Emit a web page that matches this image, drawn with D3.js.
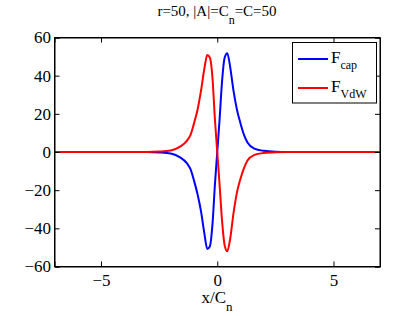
<!DOCTYPE html>
<html>
<head>
<meta charset="utf-8">
<script src="https://cdn.jsdelivr.net/npm/d3@7"></script>
<style>
  body { margin: 0; background: #fff; }
  svg text { font-family: "Liberation Serif", "DejaVu Serif", serif; }
</style>
</head>
<body>
<div id="chart"></div>
<script>
// sample positions (x/Cn)
const xs = [-7, -5, -3, -2.5, -2, -1.6, -1.3, -1.15, -1, -0.85, -0.7, -0.55, -0.43, -0.32, -0.2, -0.1, 0,
            0.1, 0.2, 0.32, 0.43, 0.55, 0.7, 0.85, 1, 1.15, 1.3, 1.6, 2, 2.5, 3, 5, 7];
const fCap = [0, 0, 0, -0.2, -0.8, -2.8, -6, -9, -15, -22, -31, -43, -50.8, -49.5, -37, -17, 0,
              17, 36, 49.5, 51.8, 45, 32, 22, 15, 9, 5, 1.8, 0.6, 0.1, 0, 0, 0];
const fVdw = [0, 0, 0, 0.2, 0.8, 2.8, 6, 9, 15, 22, 32, 44, 50.8, 49.5, 38, 17, 0,
              -17, -35, -49, -52, -46, -32, -21, -14, -8.5, -4.5, -1.5, -0.5, -0.1, 0, 0, 0];
const xTicks = [-5, 0, 5];
const yTicks = [-60, -40, -20, 0, 20, 40, 60];

const width = 420, height = 316;
const mLeft = 54.5, mRight = 380, mTop = 37.5, mBottom = 266.5;
const serif = "'Liberation Serif', 'DejaVu Serif', serif";

const svg = d3.select("#chart").append("svg")
  .attr("width", width).attr("height", height);

const x = d3.scaleLinear().domain([-7, 7]).range([mLeft, mRight]);
const y = d3.scaleLinear().domain([-60, 60]).range([mBottom, mTop]);

// curves
const line = vals => d3.line().curve(d3.curveMonotoneX)
  .x((d, i) => x(xs[i])).y(d => y(d))(vals);
svg.append("path").attr("d", line(fCap)).attr("fill", "none")
  .attr("stroke", "#0000ff").attr("stroke-width", 2);
svg.append("path").attr("d", line(fVdw)).attr("fill", "none")
  .attr("stroke", "#ff0000").attr("stroke-width", 2);

// axes (matlab-style: inward ticks on all four sides)
const tl = 5;
const minus = d => d < 0 ? "\u2212" + Math.abs(d) : d;
svg.append("g").attr("transform", `translate(0,${mBottom})`)
  .call(d3.axisBottom(x).tickValues(xTicks).tickSize(-tl).tickPadding(7).tickFormat(minus));
svg.append("g").attr("transform", `translate(0,${mTop})`)
  .call(d3.axisTop(x).tickValues(xTicks).tickSize(-tl).tickFormat(""));
svg.append("g").attr("transform", `translate(${mLeft},0)`)
  .call(d3.axisLeft(y).tickValues(yTicks).tickSize(-tl).tickPadding(3.5).tickFormat(minus));
svg.append("g").attr("transform", `translate(${mRight},0)`)
  .call(d3.axisRight(y).tickValues(yTicks).tickSize(-tl).tickFormat(""));

svg.selectAll(".domain").attr("stroke", "#000");
svg.selectAll(".tick line").attr("stroke", "#000");
svg.selectAll(".tick text").attr("fill", "#000")
  .style("font-family", serif).style("font-size", "17px");

svg.append("rect").attr("x", mLeft).attr("y", mTop)
  .attr("width", mRight - mLeft).attr("height", mBottom - mTop)
  .attr("fill", "none").attr("stroke", "#000");

// title
const title = svg.append("text").attr("x", 217).attr("y", 16)
  .attr("text-anchor", "middle").attr("font-size", 15);
title.append("tspan").text("r=50, |A|=C");
title.append("tspan").attr("dy", 8).attr("font-size", 12).text("n");
title.append("tspan").attr("dy", -8).text("=C=50");

// x label
const xl = svg.append("text").attr("x", 217).attr("y", 303)
  .attr("text-anchor", "middle").attr("font-size", 17);
xl.append("tspan").text("x/C");
xl.append("tspan").attr("dy", 8).attr("font-size", 13).text("n");

// legend
const leg = svg.append("g");
leg.append("rect").attr("x", 292.5).attr("y", 42.5).attr("width", 84).attr("height", 60.5)
  .attr("fill", "#fff").attr("stroke", "#000");
const entries = [["cap", "#0000ff", 59], ["VdW", "#ff0000", 88]];
entries.forEach(([sub, col, ly]) => {
  leg.append("line").attr("x1", 298).attr("x2", 328).attr("y1", ly).attr("y2", ly)
    .attr("stroke", col).attr("stroke-width", 2);
  const t = leg.append("text").attr("x", 331).attr("y", ly + 4).attr("font-size", 17);
  t.append("tspan").text("F");
  t.append("tspan").attr("dy", 6).attr("font-size", 12).text(sub);
});
</script>
</body>
</html>
